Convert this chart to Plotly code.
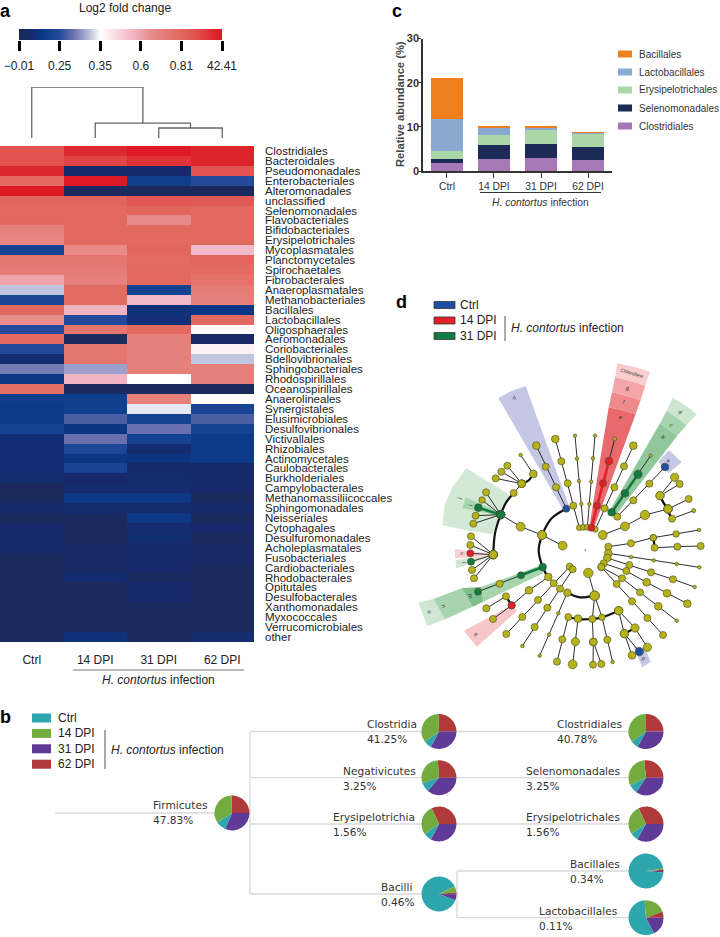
import plotly.graph_objects as go

W, H = 720, 937
FONT = "Liberation Sans"

# ---------- panel a data ----------
orders = ["Clostridiales","Bacteroidales","Pseudomonadales","Enterobacteriales","Alteromonadales","unclassified",
"Selenomonadales","Flavobacteriales","Bifidobacteriales","Erysipelotrichales","Mycoplasmatales","Planctomycetales",
"Spirochaetales","Fibrobacterales","Anaeroplasmatales","Methanobacteriales","Bacillales","Lactobacillales",
"Oligosphaerales","Aeromonadales","Coriobacteriales","Bdellovibrionales","Sphingobacteriales","Rhodospirillales",
"Oceanospirillales","Anaerolineales","Synergistales","Elusimicrobiales","Desulfovibrionales","Victivallales",
"Rhizobiales","Actinomycetales","Caulobacterales","Burkholderiales","Campylobacterales","Methanomassiliicoccales",
"Sphingomonadales","Neisseriales","Cytophagales","Desulfuromonadales","Acholeplasmatales","Fusobacteriales",
"Cardiobacteriales","Rhodobacterales","Opitutales","Desulfobacterales","Xanthomonadales","Myxococcales",
"Verrucomicrobiales","other"]
groups = ["Ctrl","14 DPI","31 DPI","62 DPI"]
level_ctrl = [.87,.87,.96,.79,.99,.80,.79,.80,.70,.68,.16,.74,.72,.60,.35,.18,.79,.65,.2,.79,.2,.06,.28,.11,.77,
              .13,.12,.12,.16,.07,.07,.07,.07,.06,.02,.03,.05,.03,.05,.05,.05,.03,.03,.03,.03,.03,.03,.03,.03,.03]
level_14 = [.96,.90,.05,.99,.03,.80,.79,.79,.79,.79,.66,.74,.72,.70,.78,.78,.56,.2,.74,.03,.74,.74,.32,.56,.03,
            .14,.14,.24,.1,.27,.18,.1,.17,.05,.06,.11,.06,.03,.03,.03,.04,.04,.04,.06,.03,.03,.03,.03,.03,.08]
level_31 = [.99,.94,.05,.14,.02,.86,.80,.66,.79,.79,.80,.78,.79,.79,.16,.55,.08,.07,.79,.70,.70,.70,.70,.40,.03,
            .70,.38,.16,.27,.16,.06,.09,.05,.06,.06,.11,.06,.11,.06,.07,.05,.05,.05,.03,.05,.05,.03,.03,.03,.03]
level_62 = [.97,.97,.87,.2,.02,.84,.79,.79,.79,.79,.55,.80,.78,.75,.72,.70,.10,.79,.41,.04,.43,.35,.70,.70,.03,
            .40,.17,.24,.16,.12,.12,.12,.05,.05,.05,.03,.05,.03,.05,.03,.04,.04,.03,.03,.03,.03,.03,.03,.03,.06]
level_ticks = [0, .2, .4, .6, .8, 1]
level_labels = ["\u22120.01","0.25","0.35","0.6","0.81","42.41"]
dendro_heights = [0.196, 0.29, 1.0]

# ---------- panel c data ----------
bar_series = [
    ("Clostridiales", "#a678b6", [1.8, 2.8, 3.0, 2.55]),
    ("Selenomonadales", "#1b2a56", [0.9, 3.2, 3.2, 2.95]),
    ("Erysipelotrichales", "#abd6a7", [1.75, 2.05, 3.0, 3.1]),
    ("Lactobacillales", "#8aa9d1", [7.25, 1.9, 0.8, 0.2]),
    ("Bacillales", "#f0801e", [9.4, 0.2, 0.3, 0.1]),
]

# ---------- panel b data (order: 62 DPI, 31 DPI, Ctrl, 14 DPI; start = first-slice angle) ----------
pie_colors = ["#b0393a", "#5f3a97", "#2ea6ad", "#72ac3f"]
pies = [
    ("Firmicutes", "47.83%", 232, 813, -2, [92,113,34,121], 153, 805),
    ("Clostridia", "41.25%", 439, 731.5, -2, [92,118,26,124], 367, 724),
    ("Negativicutes", "3.25%", 439, 777.7, -4, [94,130,32,104], 343, 771),
    ("Erysipelotrichia", "1.56%", 439, 824, -25, [115,118,27,100], 333, 817),
    ("Bacilli", "0.46%", 439, 894, 84, [7,20,313,20], 381, 887),
    ("Clostridiales", "40.78%", 646, 731.5, 0, [90,119,25,126], 557, 724),
    ("Selenomonadales", "3.25%", 646, 777.7, -6, [96,124,30,110], 526, 771),
    ("Erysipelotrichales", "1.56%", 646, 824, -25, [115,120,27,98], 526, 817),
    ("Bacillales", "0.34%", 646, 871, 86, [4,5,347,4], 570, 864),
    ("Lactobacillales", "0.11%", 646, 917.7, 69, [21,63,202,74], 539, 911),
]
tree_links = [
    [(55,813),(232,813)], [(250,732),(250,894)],
    [(250,731.5),(646,731.5)], [(250,777.7),(646,777.7)], [(250,824),(646,824)],
    [(250,894),(457,894)], [(457,871),(457,917.7)], [(457,871),(646,871)], [(457,917.7),(646,917.7)],
]

# ---------- panel d data: zoomed picture units, 3 per pixel ----------
OL, RD, GR, BL = "#b5b21a", "#e0202a", "#0f7a42", "#1f4ea3"
chains = [
 [(538,143,5,OL),(520,77,6,OL),(503,10,6,OL),(484,-56,6,OL),(466,-123,6.5,OL)],
 [(550,142,5,OL),(544,72,3,OL),(537,3,3,OL),(531,-64,3,OL),(525,-133,3,OL)],
 [(562,142,5,OL),(568,72,3,OL),(574,5,3,OL),(579,-65,3,OL),(585,-133,3,OL)],
 [(574,143,6,RD),(591,77,6,RD),(609,10,6,RD),(627,-57,6.5,RD),(644,-123,3.5,OL)],
 [(586,148,5,OL),(614,85,6,OL),(643,22,6,OL),(672,-41,6,OL),(700,-103,6.5,OL)],
 [(635,97,6.5,GR),(675,40,6.5,GR),(714,-17,7,GR),(752,-73,3,OL)],
 [(652,110,6,OL),(700,61,6,OL),(748,11,6,OL),(795,-39,6.5,BL)],
 [(608,165,7.5,OL),(675,139,7.5,OL),(735,105,8,OL),(804,87,7,OL)],
 [(804,87,7,OL),(780,47,7,OL),(824,-8,7,OL)], [(780,47,7,OL),(839,12,6,OL)],
 [(804,87,7,OL),(866,57,6,OL)], [(804,87,7,OL),(816,116,6,OL),(881,92,3.5,OL)],
 [(625,200,6,OL),(693,190,6,OL),(760,173,5.5,OL),(828,162,5.5,OL),(897,150,3,OL)],
 [(760,173,5.5,OL),(764,203,6,OL),(832,200,6,OL),(902,198,6,OL)],
 [(625,220,6.5,OL),(693,231,3,OL),(761,241,3,OL),(830,252,3,OL),(898,262,3,OL)],
 [(622,234,6.5,OL),(688,255,6,OL),(753,277,6,OL),(819,298,6,OL),(884,321,3,OL)],
 [(611,250,6,OL),(679,273,6,OL),(740,307,6.5,OL),(801,340,6.5,OL),(862,371,6.5,OL)],
 [(604,261,6,OL),(666,295,6,OL),(720,337,6,OL),(775,379,6.5,OL),(830,422,3,OL)],
 [(604,261,6,OL),(650,312,6,OL),(696,364,6,OL),(742,414,6,OL),(789,465,6,OL)],
 [(565,279,8,OL),(584,347,8,OL),(606,412,5.5,OL),(622,479,6,OL),(638,546,3,OL)],
 [(584,347,8,OL),(577,417,6,OL),(580,486,6.5,OL),(579,554,6,OL)], [(580,486,6.5,OL),(604,552,6,OL)],
 [(534,416,6.5,OL),(526,485,7,OL),(518,553,7.5,OL)],
 [(505,411,6,OL),(487,478,6,OL),(471,545,6,OL)],
 [(502,338,6.5,OL),(475,400,3,OL),(447,464,3,OL),(419,527,3,OL)],
 [(656,392,7,OL),(705,444,7,OL),(742,502,7,OL)],
 [(656,392,7,OL),(673,461,7,OL),(696,526,6.5,OL)], [(673,461,7,OL),(718,515,7,BL)],
 [(509,260,6,OL),(461,310,6,OL),(414,360,6,OL),(367,411,6,OL),(319,462,6,OL)],
 [(518,268,6,OL),(480,326,6,OL),(442,383,6,OL),(404,441,6,OL),(367,498,3,OL)],
 [(445,291,6.5,OL),(387,331,6.5,OL),(335,376,6,RD),(279,417,6,OL)],
 [(335,376,6,RD),(318,349,6,OL),(259,385,6,OL)],
 [(428,261,6.5,GR),(363,286,6,GR),(299,311,6,OL),(234,335,6,GR)],
 [(426,165,7.5,OL),(488,197,7.5,OL)],
 [(426,165,7.5,OL),(362,140,7.5,OL),(302,104,7,GR)],
 [(499,86,6,BL),(468,22,6,OL),(437,-40,6,OL),(409,-103,6.5,OL)],
 [(302,104,7,GR),(235,83,6.5,GR)], [(302,104,7,GR),(227,107,6,OL)], [(302,104,7,GR),(220,131,6,OL)],
 [(302,104,7,GR),(246,60,5.5,OL)], [(302,104,7,GR),(258,37,6,OL)],
 [(341,39,6,OL),(365,11,6.5,OL),(322,-43,6,OL)], [(365,11,6.5,OL),(304,-25,6,OL)], [(365,11,6.5,OL),(287,-5,6,OL)],
 [(400,-18,6.5,OL),(362,-75,3,OL)],
 [(280,224,7,OL),(213,169,6,OL)], [(280,224,7,OL),(211,195,6,OL)], [(280,224,7,OL),(211,220,6,RD)],
 [(280,224,7,OL),(213,245,6,GR)], [(280,224,7,OL),(216,270,6,OL)], [(280,224,7,OL),(222,295,6,OL)],
]
thick_arcs = [
 [(426,165),(416,212),(428,261)], [(426,165),(455,115),(499,86)], [(302,104),(285,160),(280,224)],
 [(302,104),(318,68),(341,39)], [(502,338),(540,352),(584,347)], [(505,411),(540,418),(577,417)],
 [(577,417),(606,412),(656,392)], [(538,143),(562,140),(586,148)], [(365,11),(385,2),(400,-18)],
 [(428,261),(436,278),(445,291)], [(804,87),(808,102),(816,116)], [(804,87),(790,68),(780,47)],
 [(760,173),(762,188),(764,203)], [(635,97),(644,104),(652,110)], [(705,444),(690,452),(673,461)],
 [(318,349),(326,362),(335,376)],
]
color_branches = [
 ([(574,143),(591,77),(609,10),(627,-57)], RD), ([(635,97),(675,40),(714,-17)], GR),
 ([(302,104),(235,83)], GR), ([(428,261),(363,286)], GR),
]
LAV = "#c6c7e5"
wedges = [
 ([(295,-246),(336,-268),(377,-282),(507,78),(490,90)], LAV),
 ([(568,140),(626,-218),(666,-210),(707,-198),(582,143)], "#e9696c"),
 ([(626,-218),(636,-263),(680,-253),(722,-240),(707,-198),(666,-210)], "#ee8a8c"),
 ([(636,-263),(645,-308),(692,-297),(736,-283),(722,-240),(680,-253)], "#f3a5a7"),
 ([(645,-308),(652,-350),(702,-340),(750,-325),(736,-283),(692,-297)], "#f9cdce"),
 ([(630,90),(780,-170),(806,-152),(832,-133),(645,108)], "#90c89c"),
 ([(780,-170),(800,-208),(832,-187),(860,-165),(832,-133),(806,-152)], "#a7d4ae"),
 ([(800,-208),(818,-247),(856,-224),(890,-197),(860,-165),(832,-187)], "#cde6d0"),
 ([(807,-90),(845,-53),(805,-20),(775,-55)], LAV),
 ([(199,-35),(158,20),(134,75),(127,135),(205,152),(278,162),(302,104),(330,45)], "#d3e8d5"),
 ([(197,52),(188,85),(300,108),(305,100)], "#a9d4ae"),
 ([(165,207),(165,235),(280,228),(280,222)], "#f9cfd0"),
 ([(167,240),(168,265),(280,228),(280,224)], "#cfe6d2"),
 ([(55,368),(82,438),(135,418),(100,357)], "#cfe6d2"),
 ([(100,357),(135,418),(218,380),(185,325)], "#a7d4ae"),
 ([(185,325),(218,380),(250,365),(245,320)], "#7fbf8e"),
 ([(245,320),(250,365),(430,280),(425,255)], "#a6d4ad"),
 ([(192,452),(230,500),(352,392),(335,376)], "#f6c6c8"),
 ([(700,498),(735,505),(752,545),(727,562)], LAV),
]
wedge_labels = [("h",344,-247,25),("Chloroflexi",696,-320,17),("g",683,-276,17),("f",673,-235,17),("e",661,-190,17),
 ("d",841,-205,40),("c",815,-166,40),("b",790,-130,40),("a",808,-58,40),("j",178,55,-70),("i",212,76,-70),
 ("k",186,220,90),("l",192,246,90),("m",213,347,70),("n",131,379,70),("o",89,396,70),("q",230,462,60),("p",729,535,20)]

# ---------- helpers ----------
def px(x): return x / W
def py(y): return 1 - y / H
ann, shapes = [], []
def T(x, y, text, size=12, anchor="left", color="#222", angle=0, family=FONT):
    ann.append(dict(x=px(x), y=py(y), xref="paper", yref="paper", text=text, showarrow=False, xanchor=anchor,
                    yanchor="middle", textangle=angle, borderpad=0, borderwidth=0,
                    font=dict(size=size, color=color, family=family)))
def rect(x0, y0, x1, y1, color, lw=0, lc="#222"):
    shapes.append(dict(type="rect", xref="paper", yref="paper", x0=px(x0), x1=px(x1), y0=py(y0), y1=py(y1),
                       fillcolor=color, line=dict(width=lw, color=lc)))
def seg(x0, y0, x1, y1, color="#666", w=1.2):
    shapes.append(dict(type="line", xref="paper", yref="paper", x0=px(x0), x1=px(x1), y0=py(y0), y1=py(y1),
                       line=dict(width=w, color=color)))

fig = go.Figure()

# panel a heatmap
scale = [[0,"#1a2857"],[.03,"#1b2a5f"],[.05,"#17296b"],[.1,"#0a3684"],[.15,"#12418f"],[.2,"#24499a"],[.27,"#6a70ae"],
         [.32,"#9ba0cc"],[.35,"#c0c5e0"],[.4,"#ffffff"],[.55,"#f2b9c8"],[.66,"#e88a88"],[.79,"#e2695f"],[.87,"#e05350"],
         [.99,"#dd1a24"],[1,"#dd1a24"]]
fig.add_trace(go.Heatmap(z=[list(r) for r in zip(level_ctrl, level_14, level_31, level_62)], x=groups, y=orders,
    colorscale=scale, zmin=0, zmax=1, xaxis="x", yaxis="y", hoverinfo="skip", showscale=False))
# colour key, drawn with the same scale
key_steps = [i / 200 for i in range(201)]
fig.add_trace(go.Heatmap(z=[key_steps], x=key_steps, y=[0], colorscale=scale, zmin=0, zmax=1, xaxis="x6", yaxis="y6",
                         hoverinfo="skip", showscale=False))

# dendrogram
h1, h2, h3 = dendro_heights
fig.add_trace(go.Scatter(
    x=[2,2,3,3,None,1,1,2.5,2.5,None,0,0,1.75,1.75],
    y=[0,h1,h1,0,None,0,h2,h2,h1,None,0,h3,h3,h2],
    mode="lines", line=dict(color="#666", width=1.3), xaxis="x2", yaxis="y2", showlegend=False, hoverinfo="skip"))

# panel c
for name, color, vals in bar_series:
    fig.add_trace(go.Bar(x=groups, y=vals, name=name, marker=dict(color=color, line=dict(width=0)), width=0.68,
                         xaxis="x3", yaxis="y3", showlegend=False))

# panel b tree lines
tx, ty = [], []
for link in tree_links:
    for a, b in link:
        tx.append(a); ty.append(b)
    tx.append(None); ty.append(None)
fig.add_trace(go.Scatter(x=tx, y=ty, mode="lines", line=dict(color="#d9d9d9", width=1.3), xaxis="x5", yaxis="y5",
                         showlegend=False, hoverinfo="skip"))

# panel d wedges
for pts, c in wedges:
    fig.add_trace(go.Scatter(x=[p[0] for p in pts], y=[p[1] for p in pts], mode="lines", fill="toself", fillcolor=c,
                             line=dict(width=0, color=c), xaxis="x4", yaxis="y4", showlegend=False, hoverinfo="skip"))
# panel d edges
ex, ey = [], []
for ch in chains:
    for n in ch:
        ex.append(n[0]); ey.append(n[1])
    ex.append(None); ey.append(None)
fig.add_trace(go.Scatter(x=ex, y=ey, mode="lines", line=dict(color="#2e2e2e", width=1), xaxis="x4", yaxis="y4",
                         showlegend=False, hoverinfo="skip"))
for pts in thick_arcs:
    fig.add_trace(go.Scatter(x=[p[0] for p in pts], y=[p[1] for p in pts], mode="lines",
                             line=dict(color="#111", width=2.2, shape="spline"), xaxis="x4", yaxis="y4",
                             showlegend=False, hoverinfo="skip"))
for pts, c in color_branches:
    fig.add_trace(go.Scatter(x=[p[0] for p in pts], y=[p[1] for p in pts], mode="lines",
                             line=dict(color=c, width=2.6), xaxis="x4", yaxis="y4", showlegend=False, hoverinfo="skip"))
# panel d nodes
nodes = [n for ch in chains for n in ch]
nodes.sort(key=lambda n: n[3] != OL)
fig.add_trace(go.Scatter(x=[n[0] for n in nodes], y=[n[1] for n in nodes], mode="markers",
    marker=dict(size=[n[2]*1.18 for n in nodes], color=[n[3] for n in nodes], opacity=1,
                line=dict(color="#4a4a22", width=0.6)),
    xaxis="x4", yaxis="y4", showlegend=False, hoverinfo="skip"))
fig.add_trace(go.Scatter(x=[556], y=[210], mode="markers", marker=dict(size=1.5, color="#555"),
    xaxis="x4", yaxis="y4", showlegend=False, hoverinfo="skip"))

# panel b pies
R = 17.5
for name, pct, cx, cy, start, vals, lx, ly in pies:
    fig.add_trace(go.Pie(values=vals, labels=["62 DPI","31 DPI","Ctrl","14 DPI"], sort=False, direction="clockwise",
        rotation=start, marker=dict(colors=pie_colors, line=dict(width=0)), textinfo="none", showlegend=False,
        hoverinfo="skip", domain=dict(x=[px(cx-R), px(cx+R)], y=[py(cy+R), py(cy-R)])))
    T(lx, ly, name, size=10.6, color="#333", family="DejaVu Sans")
    T(lx, ly+14.5, pct, size=10.6, color="#333", family="DejaVu Sans")

# texts and decorations
for x, y, t in [(0,10.5,"a"),(0,717,"b"),(392,10.5,"c"),(396,302,"d")]:
    T(x, y, "<b>"+t+"</b>", size=18, color="#000")
T(125, 8, "Log2 fold change", size=12, anchor="center")
seg(73, 670, 244, 670, "#777", 1.2)
T(158, 680, "<i>H. contortus</i> infection", size=12, anchor="center")

# c axis title, legend
T(400, 104, "<b>Relative abundance (%)</b>", size=11.2, anchor="center", color="#444", angle=-90)
for i, (name, color, _) in enumerate(reversed(bar_series)):
    y = 54 + 18*i
    rect(618, y-3.5, 632, y+3.5, color)
    T(639, y, name, size=10, color="#333")
seg(480, 192.5, 601, 192.5, "#333", 1)
T(540, 203, "<i>H. contortus</i> infection", size=10.3, anchor="center", color="#333")

# d legend
for i, (name, color) in enumerate([("Ctrl","#1f4ea3"),("14 DPI","#e0202a"),("31 DPI","#0f7a42")]):
    y = 305 + 15.5*i
    rect(434, y-3.5, 455, y+3.5, color, 0.8, "#333")
    T(460, y, name, size=12)
seg(505, 316, 505, 341, "#555", 1)
T(511, 328, "<i>H. contortus</i> infection", size=12)
for t, x, y, a in wedge_labels:
    T(400+x/3, 480+y/3, t, size=5 if len(t) > 1 else 5.5, anchor="center", angle=a, color="#333")

# b legend
for i, (name, color) in enumerate([("Ctrl","#2ea6ad"),("14 DPI","#72ac3f"),("31 DPI","#5f3a97"),("62 DPI","#b0393a")]):
    y = 718 + 15.4*i
    rect(32, y-4.5, 51, y+4.5, color)
    T(58, y, name, size=12)
seg(105, 730, 105, 769, "#555", 1)
T(111, 750, "<i>H. contortus</i> infection", size=12)

hide = dict(visible=False, fixedrange=True)
fig.update_layout(
    width=W, height=H, margin=dict(l=0, r=0, t=0, b=0, pad=0, autoexpand=False), paper_bgcolor="white", plot_bgcolor="rgba(0,0,0,0)",
    barmode="stack", showlegend=False, annotations=ann, shapes=shapes, font=dict(family=FONT),
    xaxis=dict(domain=[0, px(254)], anchor="y", side="bottom", ticks="", ticklabelstandoff=9, showgrid=False,
               showline=False, zeroline=False, tickfont=dict(size=12, color="#222"), type="category"),
    yaxis=dict(domain=[py(642), py(146)], anchor="x", side="right", autorange="reversed", type="category", ticks="",
               tickmode="array", tickvals=orders, ticktext=orders, showgrid=False, showline=False, zeroline=False,
               ticklabelstandoff=10, tickfont=dict(size=11.5, color="#222")),
    xaxis2=dict(domain=[0, px(254)], range=[-0.5, 3.5], anchor="y2", **hide),
    yaxis2=dict(domain=[py(138), py(87)], range=[0, 1], anchor="x2", **hide),
    xaxis3=dict(domain=[px(423), px(612)], range=[-0.51, 3.51], anchor="y3", type="category", showline=True,
                linecolor="#333", linewidth=1.5, ticks="outside", ticklen=5, tickwidth=1.3, tickcolor="#333",
                tickfont=dict(size=10.3, color="#333"), showgrid=False, zeroline=False),
    yaxis3=dict(domain=[py(171), py(38.5)], range=[0, 30], anchor="x3", showline=True, linecolor="#333", linewidth=1.5,
                ticks="outside", ticklen=3, tickwidth=1.3, tickcolor="#333", tickvals=[0,10,20,30], showgrid=False,
                zeroline=False, ticklabelstandoff=-3, tickfont=dict(size=11, color="#333", weight="bold")),
    xaxis4=dict(domain=[px(400), 1], range=[0, 960], anchor="y4", **hide),
    yaxis4=dict(domain=[py(690), py(340)], range=[630, -420], anchor="x4", **hide),
    xaxis5=dict(domain=[0, 1], range=[0, W], anchor="y5", **hide),
    yaxis5=dict(domain=[0, 1], range=[H, 0], anchor="x5", **hide),
    xaxis6=dict(domain=[px(19), px(222)], range=[0, 1], anchor="y6", tickmode="array", tickvals=level_ticks,
                ticktext=level_labels, ticks="outside", ticklen=10, tickwidth=3, tickcolor="#000", showgrid=False,
                showline=False, zeroline=False, ticklabelstandoff=5, tickfont=dict(size=12, color="#222")),
    yaxis6=dict(domain=[py(40), py(29)], anchor="x6", visible=False, fixedrange=True, range=[-0.5, 0.5]),
)
fig.write_html("out.html", post_script="document.body.style.margin='0';", config={"displayModeBar": False})
